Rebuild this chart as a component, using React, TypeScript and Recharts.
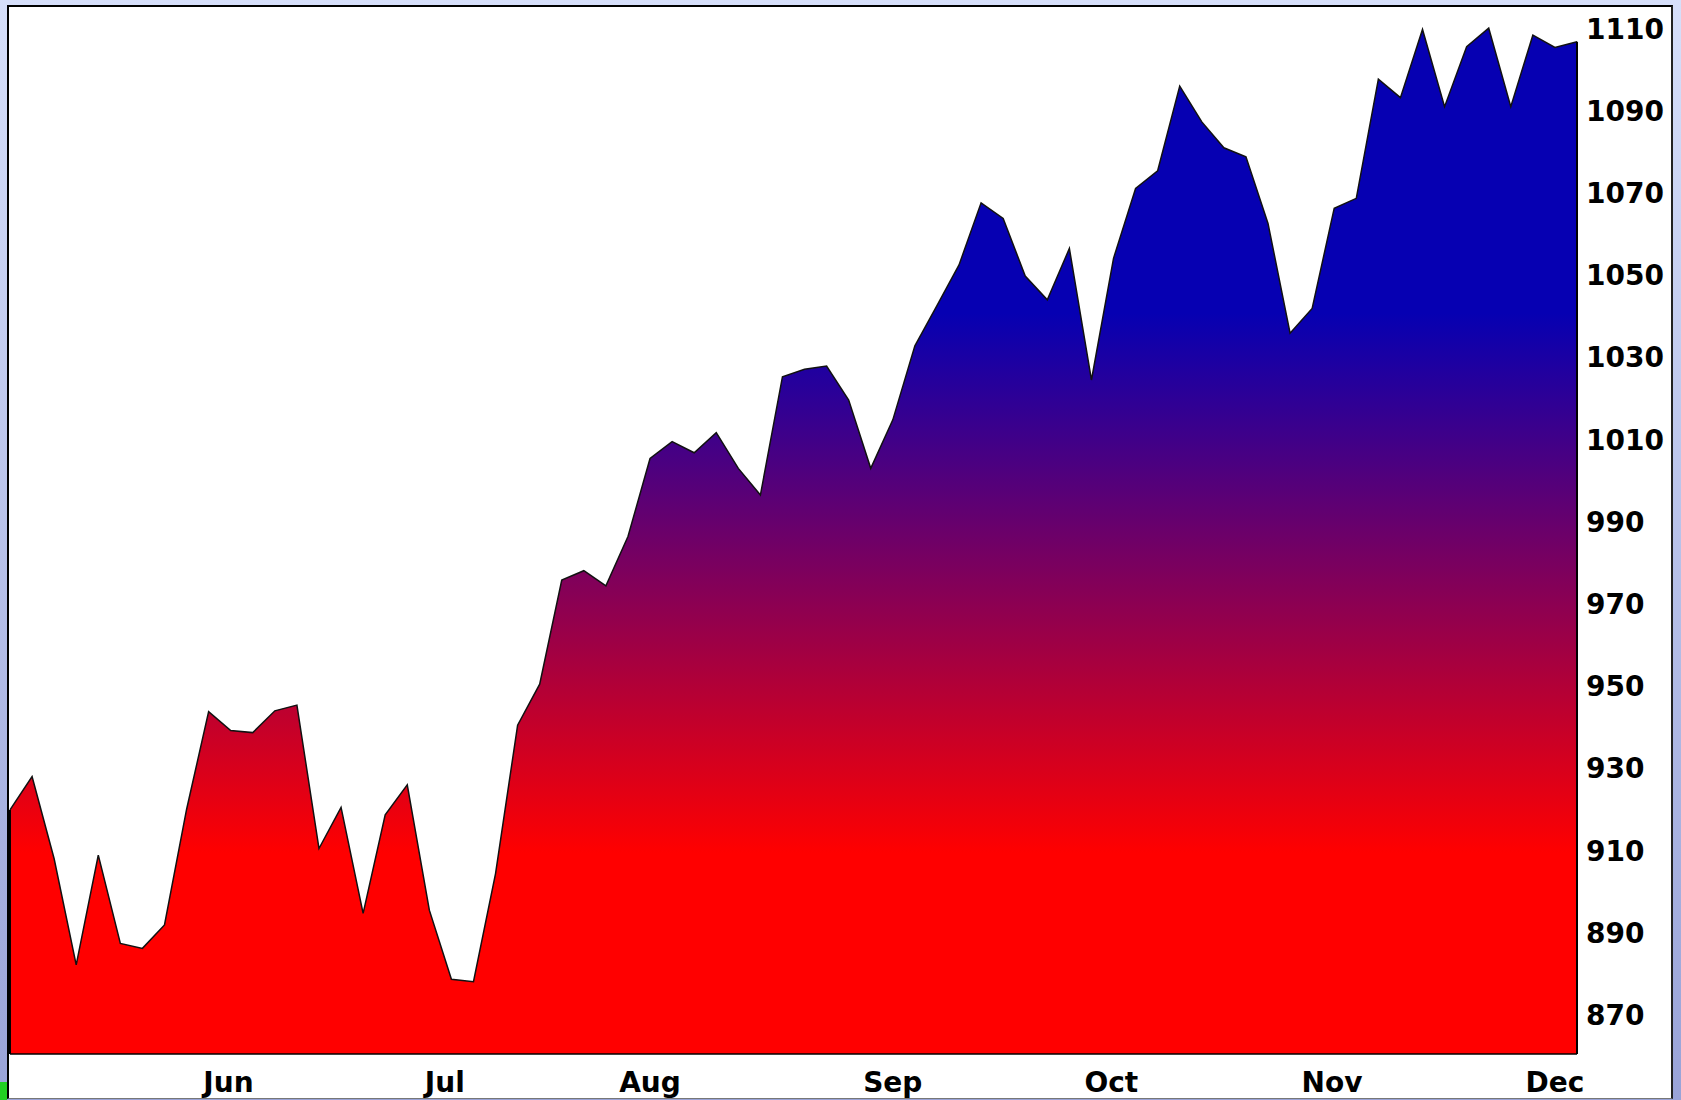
import { AreaChart, Area, XAxis, YAxis, ReferenceLine } from "recharts";

// closing values, one point every ~2 trading days, mid-May to early Dec
const values: number[] = [
  919.9, 928, 908, 882.2, 908.9, 887.4, 886.2, 891.9, 920, 943.8,
  939.2, 938.7, 944, 945.4, 910.5, 920.5, 894.7, 918.7, 926, 895.5,
  878.7, 878.1, 904.4, 940.5, 950.5, 975.8, 978.1, 974.4, 986.4, 1005.4,
  1009.5, 1006.8, 1011.7, 1003, 996.5, 1025.3, 1027.1, 1027.9, 1019.6, 1003,
  1014.8, 1032.8, 1042.6, 1052.5, 1067.6, 1063.8, 1049.8, 1044, 1056.5, 1024.5,
  1054.1, 1071.1, 1075.4, 1096, 1087.3, 1081, 1078.8, 1062.6, 1035.9, 1041.9,
  1066.3, 1068.7, 1097.7, 1093.2, 1109.8, 1091, 1105.6, 1110.1, 1091, 1108.4,
  1105.4, 1106.8,
];

// where each month begins, in point index units
const monthTicks: number[] = [9.9, 19.7, 29, 40, 49.9, 59.9, 70];
const monthLabels: string[] = ["Jun", "Jul", "Aug", "Sep", "Oct", "Nov", "Dec"];

const priceTicks: number[] = [
  870, 890, 910, 930, 950, 970, 990, 1010, 1030, 1050, 1070, 1090, 1110,
];
const priceDomain: [number, number] = [860.5, 1115.5];

const data = values.map((v, i) => ({ i, v }));

const tickStyle = {
  fontFamily: "DejaVu Sans",
  fontWeight: 700,
  fontSize: 28,
  fill: "#000",
};

function monthLabel(t: number) {
  const k = monthTicks.indexOf(t);
  return k >= 0 ? monthLabels[k] : "";
}

export default function App() {
  const last = values.length - 1;
  return (
    <div
      style={{
        position: "fixed",
        left: 0,
        top: 0,
        width: 1681,
        height: 1100,
        overflow: "hidden",
        background: "linear-gradient(#d6dffa, #99a3d8)",
      }}
    >
      <div
        style={{
          position: "absolute",
          left: 7,
          top: 5,
          width: 1666,
          height: 1094,
          boxSizing: "border-box",
          background: "#fff",
          borderTop: "2px solid #000",
          borderLeft: "2px solid #000",
          borderRight: "2px solid #222",
          borderBottom: "1px solid #777",
        }}
      />
      <div
        style={{
          position: "absolute",
          left: 0,
          top: 1082,
          width: 7,
          height: 18,
          background: "#22d022",
        }}
      />
      <div style={{ position: "absolute", left: 0, top: 0 }}>
        <AreaChart
          width={1681}
          height={1100}
          data={data}
          margin={{ top: 6, right: 0, left: 10, bottom: 0 }}
        >
          <defs>
            <linearGradient id="priceFill" x1="0" y1="0" x2="0" y2="1">
              <stop offset="0" stopColor="#0600b2" />
              <stop offset="0.278" stopColor="#0600b2" />
              <stop offset="0.804" stopColor="#ff0000" />
              <stop offset="1" stopColor="#ff0000" />
            </linearGradient>
          </defs>
          <XAxis
            dataKey="i"
            type="number"
            domain={[0, last]}
            ticks={monthTicks}
            interval={0}
            tickFormatter={monthLabel}
            tick={tickStyle}
            tickLine={false}
            tickSize={6}
            tickMargin={12}
            axisLine={{ stroke: "#000", strokeWidth: 1.5 }}
            height={46}
          />
          <YAxis
            orientation="right"
            type="number"
            domain={priceDomain}
            ticks={priceTicks}
            interval={0}
            tick={tickStyle}
            tickLine={false}
            axisLine={false}
            tickSize={6}
            tickMargin={3}
            width={104}
          />
          <Area
            type="linear"
            dataKey="v"
            stroke="#111"
            strokeWidth={1.5}
            fill="url(#priceFill)"
            fillOpacity={1}
            dot={false}
            activeDot={false}
            isAnimationActive={false}
          />
          <ReferenceLine
            segment={[
              { x: 0, y: priceDomain[0] },
              { x: 0, y: values[0] },
            ]}
            stroke="#000"
            strokeWidth={2}
          />
          <ReferenceLine
            segment={[
              { x: last, y: priceDomain[0] },
              { x: last, y: values[last] },
            ]}
            stroke="#000"
            strokeWidth={2}
          />
        </AreaChart>
      </div>
    </div>
  );
}
